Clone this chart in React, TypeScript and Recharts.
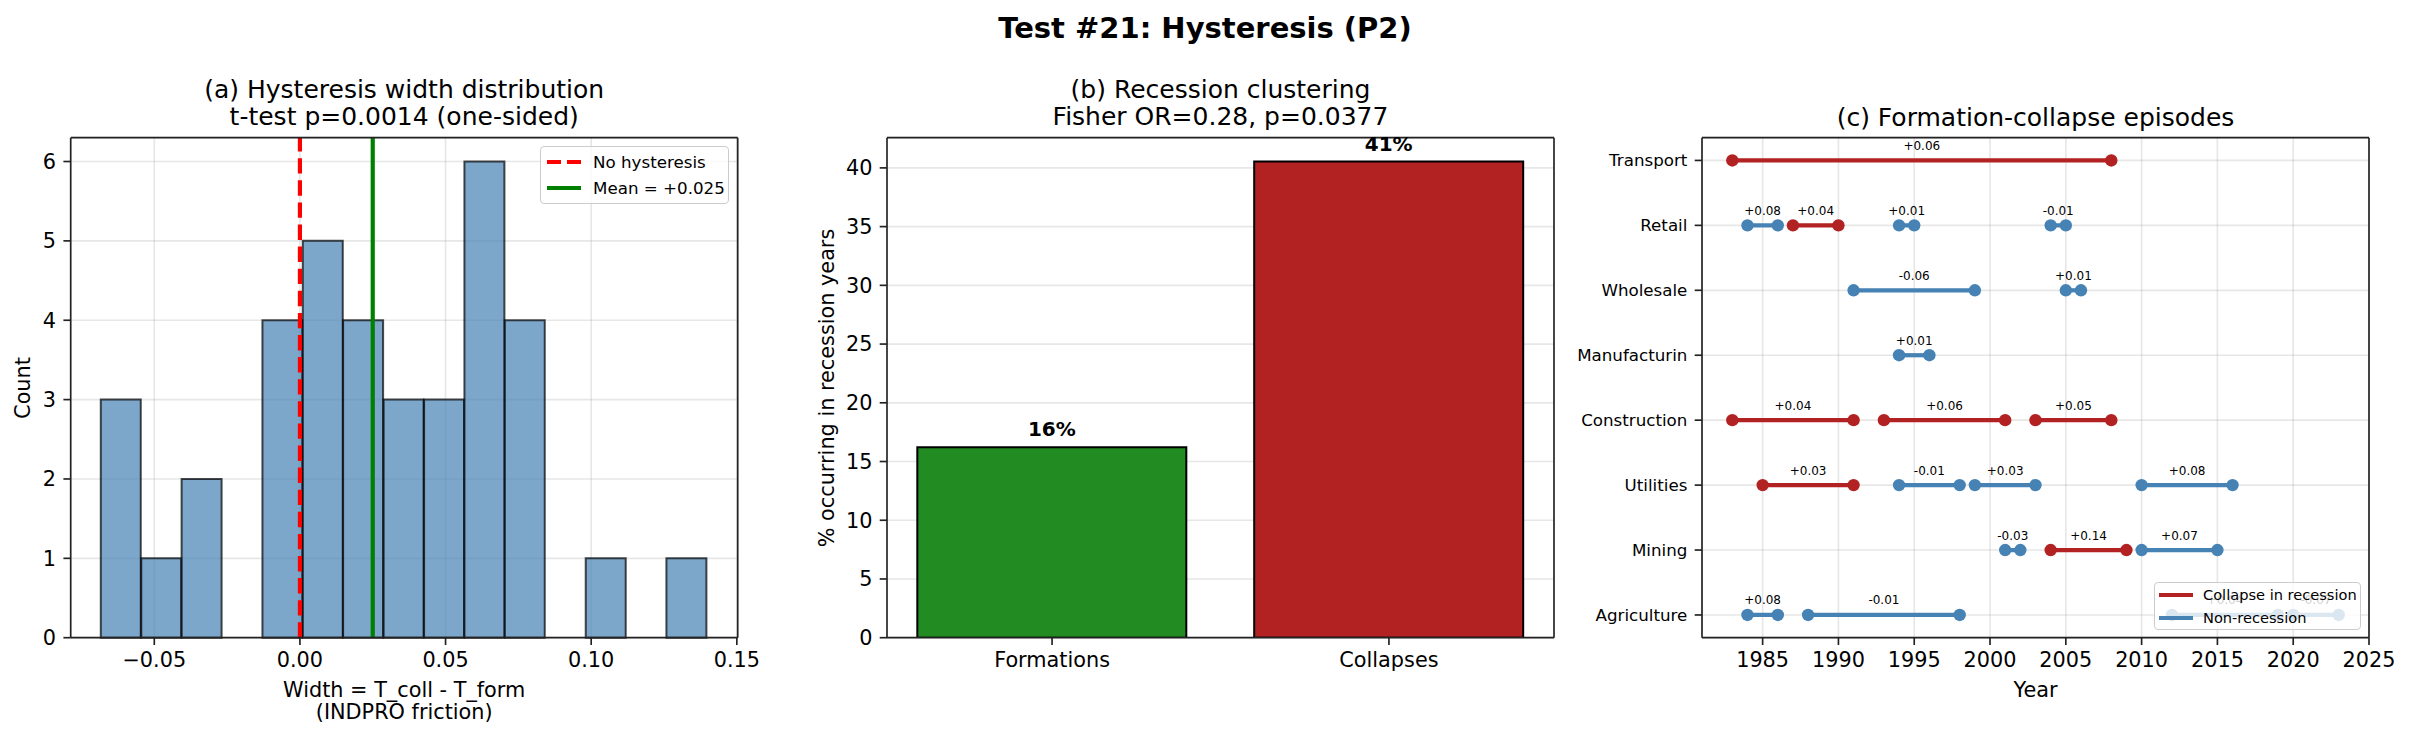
import React from 'react'
import {
  ComposedChart,
  Bar,
  Line,
  Scatter,
  XAxis,
  YAxis,
  CartesianGrid,
  ReferenceLine,
  Legend,
  LabelList,
  Cell,
} from 'recharts'

const FONT = '"DejaVu Sans", "Liberation Sans", sans-serif'
const STEEL = '#4682B4'
const FIREBRICK = '#B22222'
const FOREST = '#228B22'

// (a) hysteresis width histogram
const binEdges = [
  -0.0684, -0.0545, -0.0406, -0.0268, -0.0129, 0.001, 0.0148, 0.0287, 0.0426, 0.0565, 0.0703, 0.0842,
  0.0981, 0.112, 0.1258, 0.1397,
]
const binCounts = [3, 1, 2, 0, 4, 5, 4, 3, 3, 6, 4, 0, 1, 0, 1]
const meanWidth = 0.025
const widthTicks = [-0.05, 0, 0.05, 0.1, 0.15]
const countTicks = [0, 1, 2, 3, 4, 5, 6]

// (b) recession clustering
const clusterLabels = ['Formations', 'Collapses']
const clusterPct = [16.22, 40.54]
const clusterColors = [FOREST, FIREBRICK]
const pctTicks = [0, 5, 10, 15, 20, 25, 30, 35, 40]

// (c) formation-collapse episodes
const sectors = ['Agriculture', 'Mining', 'Utilities', 'Construction', 'Manufacturin', 'Wholesale', 'Retail', 'Transport']
const episodes = [
  { sector: 'Transport', start: 1983, end: 2008, width: '+0.06', recession: true },
  { sector: 'Retail', start: 1984, end: 1986, width: '+0.08', recession: false },
  { sector: 'Retail', start: 1987, end: 1990, width: '+0.04', recession: true },
  { sector: 'Retail', start: 1994, end: 1995, width: '+0.01', recession: false },
  { sector: 'Retail', start: 2004, end: 2005, width: '-0.01', recession: false },
  { sector: 'Wholesale', start: 1991, end: 1999, width: '-0.06', recession: false },
  { sector: 'Wholesale', start: 2005, end: 2006, width: '+0.01', recession: false },
  { sector: 'Manufacturin', start: 1994, end: 1996, width: '+0.01', recession: false },
  { sector: 'Construction', start: 1983, end: 1991, width: '+0.04', recession: true },
  { sector: 'Construction', start: 1993, end: 2001, width: '+0.06', recession: true },
  { sector: 'Construction', start: 2003, end: 2008, width: '+0.05', recession: true },
  { sector: 'Utilities', start: 1985, end: 1991, width: '+0.03', recession: true },
  { sector: 'Utilities', start: 1994, end: 1998, width: '-0.01', recession: false },
  { sector: 'Utilities', start: 1999, end: 2003, width: '+0.03', recession: false },
  { sector: 'Utilities', start: 2010, end: 2016, width: '+0.08', recession: false },
  { sector: 'Mining', start: 2001, end: 2002, width: '-0.03', recession: false },
  { sector: 'Mining', start: 2004, end: 2009, width: '+0.14', recession: true },
  { sector: 'Mining', start: 2010, end: 2015, width: '+0.07', recession: false },
  { sector: 'Agriculture', start: 1984, end: 1986, width: '+0.08', recession: false },
  { sector: 'Agriculture', start: 1988, end: 1998, width: '-0.01', recession: false },
  { sector: 'Agriculture', start: 2012, end: 2019, width: '+0.04', recession: false },
  { sector: 'Agriculture', start: 2020, end: 2023, width: '-0.07', recession: false },
]
const yearTicks = [1985, 1990, 1995, 2000, 2005, 2010, 2015, 2020, 2025]
const rowTicks = [0, 1, 2, 3, 4, 5, 6, 7]

const histData = binCounts.map((count, i) => ({ mid: (binEdges[i] + binEdges[i + 1]) / 2, count }))
const clusterData = clusterLabels.map((name, i) => ({ pos: i, name, pct: clusterPct[i] }))
const episodeLabels = episodes.map(e => ({
  year: (e.start + e.end) / 2,
  row: sectors.indexOf(e.sector),
  text: e.width,
}))

const tick = { fill: '#000', fontSize: 20.8 }
const spine = { stroke: '#222', strokeWidth: 1.67 }
const gridProps = { stroke: '#b0b0b0', strokeOpacity: 0.3, strokeWidth: 1.67 }

const fmtWidth = (v: number) => (v < 0 ? '\u2212' : '') + Math.abs(v).toFixed(2)

function Caption({ x, y, size = 20.8, bold = false, rotate = 0, children }: any) {
  return (
    <div
      style={{
        position: 'absolute',
        left: x,
        top: y,
        transform: `translate(-50%, -50%) rotate(${rotate}deg)`,
        fontSize: size,
        fontWeight: bold ? 'bold' : 'normal',
        lineHeight: 1.16,
        whiteSpace: 'nowrap',
        color: '#000',
      }}
    >
      {children}
    </div>
  )
}

interface LegendItem {
  label: string
  color: string
  dash?: string
}

function LegendBox({ items, width, height, fontSize, rowH, padLeft, gap }: any) {
  return (
    <div
      style={{
        boxSizing: 'border-box',
        width,
        height,
        border: '1px solid #cccccc',
        borderRadius: 4,
        background: 'rgba(255,255,255,0.8)',
        display: 'flex',
        flexDirection: 'column',
        justifyContent: 'center',
        paddingLeft: padLeft,
        fontFamily: FONT,
        fontSize,
        color: '#000',
      }}
    >
      {items.map((it: LegendItem) => (
        <div key={it.label} style={{ display: 'flex', alignItems: 'center', height: rowH }}>
          <svg width={34} height={10}>
            <line x1={0} y1={5} x2={34} y2={5} stroke={it.color} strokeWidth={4.17} strokeDasharray={it.dash} />
          </svg>
          <span style={{ marginLeft: gap, whiteSpace: 'nowrap' }}>{it.label}</span>
        </div>
      ))}
    </div>
  )
}

const legendA: LegendItem[] = [
  { label: 'No hysteresis', color: '#ff0000', dash: '14 6' },
  { label: `Mean = +${meanWidth.toFixed(3)}`, color: '#008000' },
]
const legendC: LegendItem[] = [
  { label: 'Collapse in recession', color: FIREBRICK },
  { label: 'Non-recession', color: STEEL },
]

// frame: top and right spines as 1px-high / 1px-wide empty axes
const topSpine = (
  <XAxis xAxisId="top" orientation="top" type="number" domain={[0, 1]} ticks={[0, 1]} height={1} tick={false} tickLine={false} axisLine={spine} />
)
const rightSpine = (
  <YAxis yAxisId="right" orientation="right" type="number" domain={[0, 1]} ticks={[0, 1]} width={1} tick={false} tickLine={false} axisLine={spine} />
)

function HistogramPanel() {
  return (
    <ComposedChart
      width={760}
      height={740}
      data={histData}
      barCategoryGap={0}
      barGap={0}
      margin={{ top: 136.7, right: 21.3, bottom: 62.3, left: 10.7 }}
    >
      <XAxis
        dataKey="mid"
        type="number"
        domain={[-0.0787, 0.1503]}
        allowDataOverflow
        ticks={widthTicks}
        interval={0}
        tickFormatter={fmtWidth}
        height={40}
        tickSize={7.3}
        tickMargin={7.3}
        tick={tick}
        axisLine={spine}
        tickLine={spine}
      />
      {topSpine}
      <YAxis
        type="number"
        domain={[0, 6.3]}
        ticks={countTicks}
        interval={0}
        width={60}
        tickSize={7.3}
        tickMargin={7.3}
        tick={tick}
        axisLine={spine}
        tickLine={spine}
      />
      {rightSpine}
      <Bar
        dataKey="count"
        fill={STEEL}
        fillOpacity={0.7}
        stroke="#000"
        strokeOpacity={0.7}
        strokeWidth={2}
        isAnimationActive={false}
      />
      <CartesianGrid {...gridProps} />
      <ReferenceLine x={0} stroke="#ff0000" strokeWidth={4.17} strokeDasharray="15.4 6.7" />
      <ReferenceLine x={meanWidth} stroke="#008000" strokeWidth={4.17} />
      <Legend
        layout="vertical"
        align="center"
        verticalAlign="middle"
        wrapperStyle={{ left: 540, top: 146, width: 189, height: 58 }}
        content={() => <LegendBox items={legendA} width={189} height={58} fontSize={16.7} rowH={26} padLeft={6} gap={12} />}
      />
    </ComposedChart>
  )
}

function ClusterPanel() {
  return (
    <ComposedChart width={800} height={740} data={clusterData} margin={{ top: 136.7, right: 25, bottom: 62.3, left: 47 }}>
      <XAxis
        dataKey="pos"
        type="number"
        domain={[-0.49, 1.49]}
        allowDataOverflow
        ticks={[0, 1]}
        interval={0}
        tickFormatter={(i: number) => clusterLabels[i] ?? ''}
        height={40}
        tickSize={7.3}
        tickMargin={7.3}
        tick={tick}
        axisLine={spine}
        tickLine={spine}
      />
      {topSpine}
      <YAxis
        type="number"
        domain={[0, 42.57]}
        allowDataOverflow
        ticks={pctTicks}
        interval={0}
        width={60}
        tickSize={7.3}
        tickMargin={7.3}
        tick={tick}
        axisLine={spine}
        tickLine={spine}
      />
      {rightSpine}
      <Bar dataKey="pct" stroke="#000" strokeWidth={2} isAnimationActive={false}>
        {clusterData.map((d, i) => (
          <Cell key={d.name} fill={clusterColors[i]} />
        ))}
        <LabelList
          dataKey="pct"
          content={(p: any) => (
            <text
              x={p.x + p.width / 2}
              y={p.y - 18}
              textAnchor="middle"
              dominantBaseline="central"
              fontSize={20}
              fontWeight="bold"
              fill="#000"
            >
              {`${Math.round(p.value)}%`}
            </text>
          )}
        />
      </Bar>
      <CartesianGrid {...gridProps} vertical={false} />
    </ComposedChart>
  )
}

function EpisodePanel() {
  return (
    <ComposedChart width={850} height={740} margin={{ top: 136.7, right: 40, bottom: 62.3, left: 32 }}>
      <CartesianGrid {...gridProps} />
      <XAxis
        dataKey="year"
        type="number"
        domain={[1981, 2025]}
        allowDataOverflow
        ticks={yearTicks}
        interval={0}
        height={40}
        tickSize={7.3}
        tickMargin={7.3}
        tick={tick}
        axisLine={spine}
        tickLine={spine}
      />
      {topSpine}
      <YAxis
        type="number"
        domain={[-0.35, 7.35]}
        allowDataOverflow
        ticks={rowTicks}
        interval={0}
        tickFormatter={(i: number) => sectors[i] ?? ''}
        width={110}
        tickSize={7.3}
        tickMargin={7.3}
        tick={{ fill: '#000', fontSize: 16.7 }}
        axisLine={spine}
        tickLine={spine}
      />
      {rightSpine}
      {episodes.map((e, i) => {
        const color = e.recession ? FIREBRICK : STEEL
        const row = sectors.indexOf(e.sector)
        return (
          <Line
            key={i}
            data={[
              { year: e.start, row },
              { year: e.end, row },
            ]}
            dataKey="row"
            stroke={color}
            strokeWidth={4.2}
            dot={{ r: 6.2, fill: color, stroke: color, strokeWidth: 0 }}
            activeDot={false}
            legendType="none"
            isAnimationActive={false}
          />
        )
      })}
      <Scatter
        data={episodeLabels}
        dataKey="row"
        legendType="none"
        isAnimationActive={false}
        shape={(p: any) => (
          <text x={p.cx} y={p.cy - 14.5} textAnchor="middle" dominantBaseline="central" fontSize={12} fill="#000">
            {p.payload.text}
          </text>
        )}
      />
      <Legend
        layout="vertical"
        align="center"
        verticalAlign="middle"
        wrapperStyle={{ left: 594, top: 582, width: 207, height: 48 }}
        content={() => <LegendBox items={legendC} width={207} height={48} fontSize={14.6} rowH={23} padLeft={4} gap={10} />}
      />
    </ComposedChart>
  )
}

export default function App() {
  return (
    <div
      style={{
        position: 'absolute',
        left: 0,
        top: 0,
        width: 2410,
        height: 740,
        background: '#fff',
        fontFamily: FONT,
        overflow: 'hidden',
      }}
    >
      <div style={{ position: 'absolute', left: 0, top: 0 }}>
        <HistogramPanel />
      </div>
      <div style={{ position: 'absolute', left: 780, top: 0 }}>
        <ClusterPanel />
      </div>
      <div style={{ position: 'absolute', left: 1560, top: 0 }}>
        <EpisodePanel />
      </div>

      <Caption x={1205} y={29} size={29} bold>
        Test #21: Hysteresis (P2)
      </Caption>

      <Caption x={404.2} y={89} size={25}>
        (a) Hysteresis width distribution
      </Caption>
      <Caption x={404.2} y={116} size={25}>
        t-test p=0.0014 (one-sided)
      </Caption>
      <Caption x={23} y={387.7} rotate={-90}>
        Count
      </Caption>
      <Caption x={404.2} y={690}>
        Width = T_coll - T_form
      </Caption>
      <Caption x={404.2} y={712}>
        (INDPRO friction)
      </Caption>

      <Caption x={1220.5} y={89} size={25}>
        (b) Recession clustering
      </Caption>
      <Caption x={1220.5} y={116} size={25}>
        Fisher OR=0.28, p=0.0377
      </Caption>
      <Caption x={827} y={387.7} rotate={-90}>
        % occurring in recession years
      </Caption>

      <Caption x={2035.5} y={117} size={25}>
        (c) Formation-collapse episodes
      </Caption>
      <Caption x={2035.5} y={690}>
        Year
      </Caption>
    </div>
  )
}
